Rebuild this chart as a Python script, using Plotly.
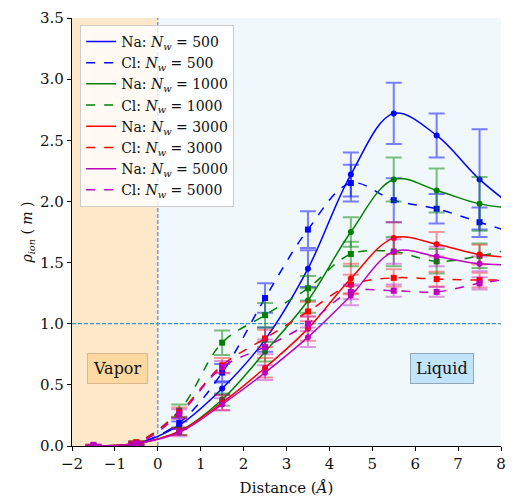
import plotly.graph_objects as go

# ---- data ----
distance = [-1.5, -0.5, 0.5, 1.5, 2.5, 3.5, 4.5, 5.5, 6.5, 7.5, 8.5]

na_500 = [0.0, 0.02, 0.17, 0.47, 0.87, 1.45, 2.22, 2.72, 2.54, 2.18, 1.90]
cl_500 = [0.0, 0.02, 0.19, 0.60, 1.21, 1.77, 2.15, 2.01, 1.94, 1.83, 1.72]
na_1000 = [0.0, 0.02, 0.12, 0.38, 0.77, 1.19, 1.75, 2.18, 2.09, 1.98, 1.94]
cl_1000 = [0.0, 0.03, 0.29, 0.845, 1.07, 1.29, 1.57, 1.59, 1.51, 1.555, 1.63]
na_3000 = [0.0, 0.02, 0.12, 0.355, 0.64, 0.96, 1.37, 1.70, 1.65, 1.565, 1.54]
cl_3000 = [0.0, 0.03, 0.275, 0.66, 0.88, 1.10, 1.32, 1.375, 1.365, 1.357, 1.36]
na_5000 = [0.0, 0.02, 0.11, 0.34, 0.60, 0.89, 1.23, 1.59, 1.55, 1.49, 1.485]
cl_5000 = [0.01, 0.02, 0.26, 0.645, 0.81, 1.00, 1.26, 1.27, 1.26, 1.33, 1.38]

err_na_500 = [0.005, 0.01, 0.03, 0.05, 0.10, 0.15, 0.18, 0.25, 0.18, 0.41, 0.30]
err_cl_500 = [0.005, 0.01, 0.04, 0.07, 0.12, 0.15, 0.15, 0.18, 0.12, 0.12, 0.12]
err_na_1000 = [0.005, 0.01, 0.03, 0.05, 0.08, 0.10, 0.12, 0.18, 0.18, 0.22, 0.20]
err_cl_1000 = [0.005, 0.01, 0.05, 0.10, 0.10, 0.10, 0.10, 0.12, 0.10, 0.10, 0.10]
err_na_3000 = [0.005, 0.01, 0.03, 0.06, 0.08, 0.10, 0.12, 0.13, 0.10, 0.08, 0.08]
err_cl_3000 = [0.005, 0.01, 0.04, 0.06, 0.07, 0.08, 0.08, 0.07, 0.06, 0.06, 0.06]
err_na_5000 = [0.005, 0.01, 0.03, 0.05, 0.06, 0.08, 0.08, 0.10, 0.08, 0.06, 0.06]
err_cl_5000 = [0.005, 0.01, 0.04, 0.05, 0.06, 0.06, 0.06, 0.05, 0.04, 0.05, 0.05]

water_counts = ["500", "1000", "3000", "5000"]
colors = ["#0000ff", "#008000", "#ff0000", "#bf00bf"]
err_colors = ["rgba(0,0,255,0.5)", "rgba(0,128,0,0.5)", "rgba(255,0,0,0.4)", "rgba(191,0,191,0.4)"]

na_series = [na_500, na_1000, na_3000, na_5000]
cl_series = [cl_500, cl_1000, cl_3000, cl_5000]
na_errs = [err_na_500, err_na_1000, err_na_3000, err_na_5000]
cl_errs = [err_cl_500, err_cl_1000, err_cl_3000, err_cl_5000]

x_ticks = [-2, -1, 0, 1, 2, 3, 4, 5, 6, 7, 8]
y_ticks = [0.0, 0.5, 1.0, 1.5, 2.0, 2.5, 3.0, 3.5]

FONT = "DejaVu Serif, Liberation Serif, serif"

fig = go.Figure()

# background regions
fig.add_shape(type="rect", xref="x", yref="paper", x0=-2, x1=0, y0=0, y1=1,
              fillcolor="#fde9c9", line_width=0, layer="below")
fig.add_shape(type="rect", xref="x", yref="paper", x0=0, x1=8, y0=0, y1=1,
              fillcolor="#f0f8fc", line_width=0, layer="below")
# reference lines
fig.add_shape(type="line", xref="x", yref="paper", x0=0, x1=0, y0=0, y1=1, layer="below",
              line=dict(color="#3d95d6", width=1.2, dash="4px,2px"))
fig.add_shape(type="line", xref="paper", yref="y", x0=0, x1=1, y0=1, y1=1, layer="below",
              line=dict(color="#3d95d6", width=1.2, dash="4px,2px"))

for i, n in enumerate(water_counts):
    for ion, ys, errs, dash, sym in (("Na", na_series[i], na_errs[i], "solid", "circle"),
                                     ("Cl", cl_series[i], cl_errs[i], "dash", "square")):
        fig.add_trace(go.Scatter(
            x=distance, y=ys, mode="lines+markers", showlegend=False,
            line=dict(color=colors[i], width=1.5, shape="spline", dash=dash),
            marker=dict(symbol=sym, size=6, color=colors[i]),
            error_y=dict(type="data", array=errs, color=err_colors[i], thickness=2, width=8),
        ))

# legend entries (line samples only)
for i, n in enumerate(water_counts):
    for ion, dash in (("Na", "solid"), ("Cl", "dash")):
        fig.add_trace(go.Scatter(
            x=[None], y=[None], mode="lines",
            name=f"{ion}: <i>N<sub>w</sub></i> = {n}",
            line=dict(color=colors[i], width=1.5, dash=dash),
        ))

fig.add_annotation(x=-0.93, y=0.63, xref="x", yref="y", text="Vapor", showarrow=False,
                   font=dict(family=FONT, size=16, color="#111"),
                   bgcolor="#fdd9a2", bordercolor="#d9b98a", borderwidth=1, borderpad=5)
fig.add_annotation(x=6.62, y=0.63, xref="x", yref="y", text="Liquid", showarrow=False,
                   font=dict(family=FONT, size=16, color="#111"),
                   bgcolor="#c2e4fa", bordercolor="#8fa7b8", borderwidth=1, borderpad=5)

fig.update_layout(
    width=519, height=497,
    margin=dict(l=72, r=18, t=18, b=51),
    paper_bgcolor="white", plot_bgcolor="white",
    font=dict(family=FONT, size=15, color="#111"),
    showlegend=True,
    legend=dict(x=0.019, y=0.984, xanchor="left", yanchor="top",
                bgcolor="rgba(255,255,255,0.8)", bordercolor="#cccccc", borderwidth=1,
                font=dict(family=FONT, size=14), tracegroupgap=0),
    xaxis=dict(range=[-2, 8], tickvals=x_ticks, ticktext=[str(v).replace("-", "\u2212") for v in x_ticks],
               showgrid=False, zeroline=False, showline=True, linecolor="black", linewidth=1.2,
               ticks="outside", ticklen=4, tickcolor="black", automargin=False,
               tickfont=dict(family=FONT, size=15),
               title=dict(text="Distance (<i>Å</i>)", font=dict(family=FONT, size=15), standoff=14)),
    yaxis=dict(range=[0, 3.5], tickvals=y_ticks, ticktext=[f"{v:.1f}" for v in y_ticks],
               showgrid=False, zeroline=False, showline=True, linecolor="black", linewidth=1.2,
               ticks="outside", ticklen=4, tickcolor="black", automargin=False,
               tickfont=dict(family=FONT, size=15),
               title=dict(text="<i>ρ<sub>ion</sub></i> ( <i>m</i> )", font=dict(family=FONT, size=14), standoff=4)),
)

fig.write_html("out.html")
